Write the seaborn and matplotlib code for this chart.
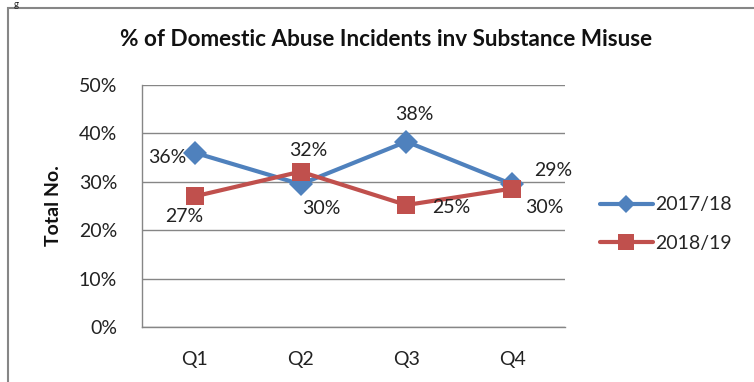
import matplotlib
matplotlib.use("Agg")
import matplotlib.pyplot as plt
import seaborn as sns
import pandas as pd
from matplotlib.patches import Rectangle
from matplotlib.lines import Line2D

quarters = ["Q1", "Q2", "Q3", "Q4"]
series_names = ["2017/18", "2018/19"]
vals_1718 = [0.36, 0.295, 0.383, 0.295]
vals_1819 = [0.27, 0.321, 0.252, 0.286]
labels_1718 = ["36%", "30%", "38%", "29%"]
labels_1819 = ["27%", "32%", "25%", "30%"]
yticks = [0, 0.1, 0.2, 0.3, 0.4, 0.5]
ytick_labels = ["0%", "10%", "20%", "30%", "40%", "50%"]

BLUE = "#4F81BD"
RED = "#C0504D"
FONT = "Lato"
FS = 14

sns.set_theme(style="white")
plt.rcParams["font.family"] = [FONT, "DejaVu Sans"]

df = pd.DataFrame({
    "Quarter": quarters * 2,
    "Value": vals_1718 + vals_1819,
    "Series": [series_names[0]] * 4 + [series_names[1]] * 4,
})

W, H = 754, 382
fig = plt.figure(figsize=(W / 100, H / 100), dpi=100)
fig.patch.set_facecolor("white")
ax = fig.add_axes([142 / W, 1 - 327 / H, (565 - 142) / W, (327 - 85) / H])

sns.lineplot(data=df, x="Quarter", y="Value", hue="Series", style="Series",
             palette=[BLUE, RED], markers=["D", "s"], dashes=False,
             markersize=12.5, linewidth=3, markeredgewidth=0, sort=False,
             legend=False, ax=ax)
for ln, ms in zip(ax.get_lines(), [12, 13]):
    ln.set_markersize(ms)

ax.set_xlim(-0.5, 3.5)
ax.set_ylim(0, 0.5)
ax.set_yticks(yticks)
ax.set_yticklabels(ytick_labels)
ax.yaxis.grid(True, color="#868686", linewidth=1)
ax.set_axisbelow(True)
for s in ["top", "right"]:
    ax.spines[s].set_visible(False)
for s in ["left", "bottom"]:
    ax.spines[s].set_color("#868686")
    ax.spines[s].set_linewidth(1)
ax.tick_params(axis="both", length=0, labelsize=FS, colors="#222222")
ax.tick_params(axis="x", pad=17)
ax.tick_params(axis="y", pad=18)
ax.set_xlabel("")
ax.set_ylabel("Total No.", fontsize=FS, fontweight="bold", labelpad=12, color="#111111")

# data labels (offsets in pixels)
offs_1718 = [(-28, -5), (21, -24), (8, 27), (41, 14)]
offs_1819 = [(-11, -20), (8, 21), (45, -2), (32, -19)]
for vals, labs, offs in [(vals_1718, labels_1718, offs_1718), (vals_1819, labels_1819, offs_1819)]:
    for i, (v, lab, o) in enumerate(zip(vals, labs, offs)):
        ax.annotate(lab, (i, v), xytext=o, textcoords="offset pixels",
                    ha="center", va="center", fontsize=FS, color="#222222")

# legend
handles = [Line2D([], [], color=BLUE, marker="D", markersize=9, linewidth=3, markeredgewidth=0),
           Line2D([], [], color=RED, marker="s", markersize=11, linewidth=3, markeredgewidth=0)]
fig.legend(handles, series_names, loc="center left", bbox_to_anchor=(600 / W, 1 - 224 / H),
           frameon=False, fontsize=FS, handlelength=2.7, handletextpad=0.15,
           labelspacing=1.1, borderpad=0, borderaxespad=0)

fig.text(386 / W, 1 - 40 / H, "% of Domestic Abuse Incidents inv Substance Misuse",
         ha="center", va="center", fontsize=16.2, fontweight="bold", color="#111111")

# outer chart frame
fig.patches.append(Rectangle((8 / W, -0.1), 1.2, (1 - 8 / H) + 0.1,
                             transform=fig.transFigure, fill=False,
                             edgecolor="#868686", linewidth=1.5))
fig.text(14 / W, 1.0, "g", ha="left", va="top", fontsize=7, color="#222222")

fig.savefig("out.png", dpi=100)
